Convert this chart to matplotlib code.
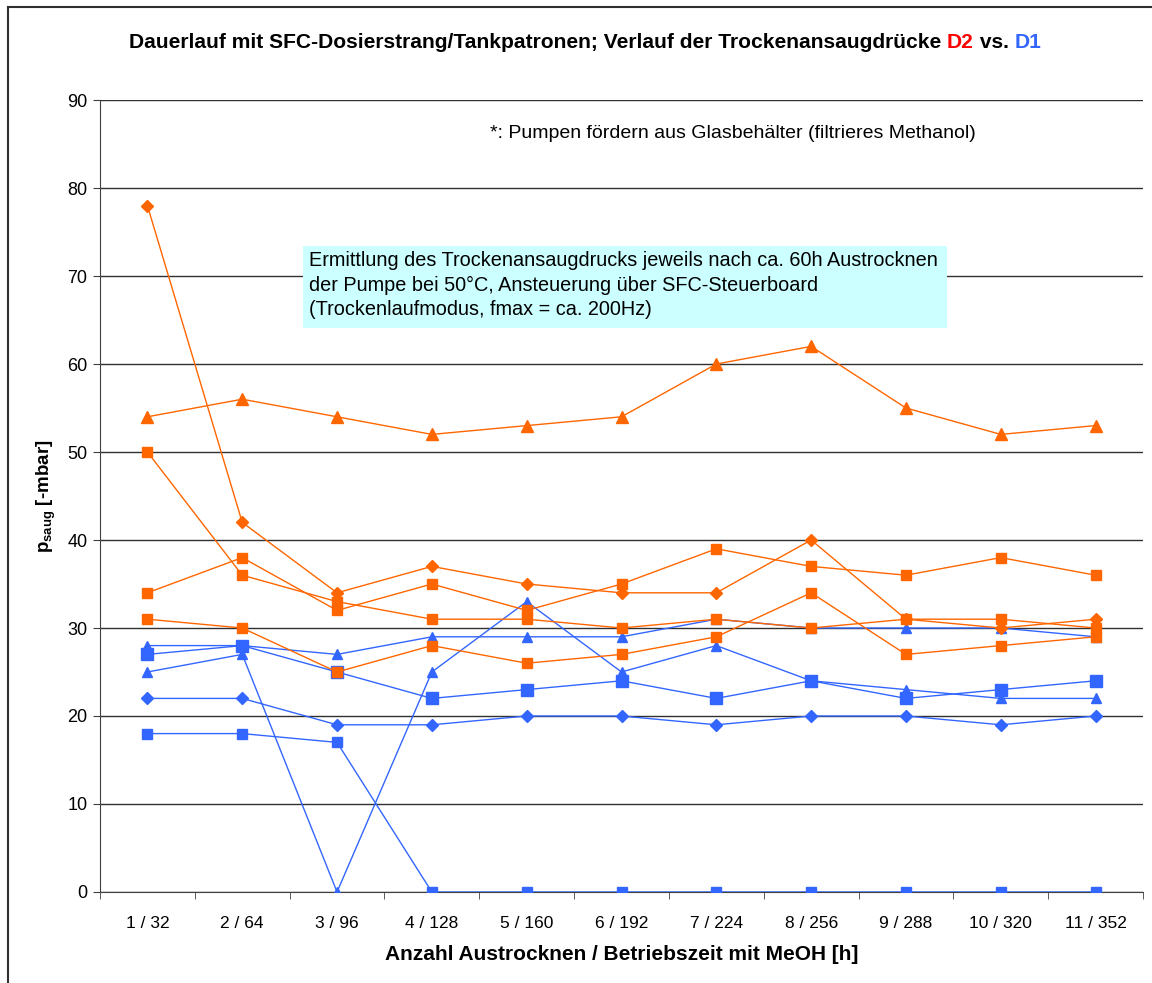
import matplotlib
matplotlib.use("Agg")
import matplotlib.pyplot as plt
from matplotlib.patches import Rectangle
from matplotlib.lines import Line2D

plt.rcParams['font.family'] = ['Liberation Sans', 'DejaVu Sans']
plt.rcParams['mathtext.fontset'] = 'custom'
plt.rcParams['mathtext.rm'] = 'Liberation Sans'
plt.rcParams['mathtext.bf'] = 'Liberation Sans:bold'

# Daten
kategorien = ['1 / 32', '2 / 64', '3 / 96', '4 / 128', '5 / 160', '6 / 192',
              '7 / 224', '8 / 256', '9 / 288', '10 / 320', '11 / 352']

# D2 (orange)
d2_raute = [78, 42, 34, 37, 35, 34, 34, 40, 31, 30, 31]
d2_dreieck = [54, 56, 54, 52, 53, 54, 60, 62, 55, 52, 53]
d2_quadrat_a = [34, 38, 32, 35, 32, 35, 39, 37, 36, 38, 36]
d2_quadrat_b = [50, 36, 33, 31, 31, 30, 31, 30, 31, 31, 30]
d2_quadrat_c = [31, 30, 25, 28, 26, 27, 29, 34, 27, 28, 29]

# D1 (blau)
d1_dreieck_a = [28, 28, 27, 29, 29, 29, 31, 30, 30, 30, 29]
d1_dreieck_b = [25, 27, 0, 25, 33, 25, 28, 24, 23, 22, 22]
d1_quadrat_a = [27, 28, 25, 22, 23, 24, 22, 24, 22, 23, 24]
d1_quadrat_b = [18, 18, 17, 0, 0, 0, 0, 0, 0, 0, 0]
d1_raute = [22, 22, 19, 19, 20, 20, 19, 20, 20, 19, 20]

orange = '#FF6600'
blau = '#3366FF'

W, H = 1152, 983
fig = plt.figure(figsize=(W / 100, H / 100), dpi=100)
ax = fig.add_axes([100 / W, 1 - 892 / H, 1043 / W, 792 / H])

x = list(range(len(kategorien)))

# blaue Reihen zuerst (orange liegt darüber)
ax.plot(x, d1_dreieck_a, color=blau, lw=1, marker='^', ms=7, zorder=3)
ax.plot(x, d1_dreieck_b, color=blau, lw=1, marker='^', ms=7, zorder=3)
ax.plot(x, d1_quadrat_a, color=blau, lw=1, marker='s', ms=8.5, zorder=3)
ax.plot(x, d1_quadrat_b, color=blau, lw=1, marker='s', ms=7, zorder=3)
ax.plot(x, d1_raute, color=blau, lw=1, marker='D', ms=6, zorder=3)

ax.plot(x, d2_raute, color=orange, lw=1, marker='D', ms=6, zorder=4)
ax.plot(x, d2_dreieck, color=orange, lw=1, marker='^', ms=8, zorder=4)
ax.plot(x, d2_quadrat_a, color=orange, lw=1, marker='s', ms=7, zorder=4)
ax.plot(x, d2_quadrat_b, color=orange, lw=1, marker='s', ms=7, zorder=4)
ax.plot(x, d2_quadrat_c, color=orange, lw=1, marker='s', ms=7, zorder=4)

ax.set_xlim(-0.5, len(kategorien) - 0.5)
ax.set_ylim(0, 90)
ax.set_yticks(range(0, 91, 10))
ax.yaxis.grid(True, color='#303030', lw=1)
ax.set_axisbelow(True)

ax.set_xticks(x)
ax.set_xticklabels(kategorien, fontsize=12.5)
ax.set_xticks([i - 0.5 for i in range(len(kategorien) + 1)], minor=True)
ax.tick_params(axis='x', which='major', length=0, pad=17)
ax.tick_params(axis='x', which='minor', length=5, color='#404040', direction='out')
ax.tick_params(axis='y', length=5, color='#404040', labelsize=13, pad=4)

for s in ['top', 'right']:
    ax.spines[s].set_visible(False)
for s in ['left', 'bottom']:
    ax.spines[s].set_color('#404040')

ax.set_xlabel('Anzahl Austrocknen / Betriebszeit mit MeOH [h]', fontsize=15,
              fontweight='bold', labelpad=10)
ax.set_ylabel(r'$\mathbf{p_{saug}}$ [-mbar]', fontsize=13.5, fontweight='bold',
              labelpad=7)

# Titel mit farbigem D2 / D1
ty = 1 - 43 / H
teile = [('Dauerlauf mit SFC-Dosierstrang/Tankpatronen; Verlauf der Trockenansaugdrücke ', 'black'),
         ('D2', '#FF0000'), (' vs. ', 'black'), ('D1', blau)]
fig.canvas.draw()
r = fig.canvas.get_renderer()
texte = []
xpos = 0
for txt, col in teile:
    t = fig.text(xpos, ty, txt, color=col, fontsize=15.1, fontweight='bold',
                 va='center', ha='left')
    xpos = t.get_window_extent(r).x1 / W
    texte.append(t)
breite = texte[-1].get_window_extent(r).x1 - texte[0].get_window_extent(r).x0
start = 585 - breite / 2
for t in texte:
    t.set_x(t.get_position()[0] + start / W)

# Hinweise
fig.text(490 / W, 1 - 133 / H,
         '*: Pumpen fördern aus Glasbehälter (filtrieres Methanol)',
         fontsize=14, va='center', ha='left')

fig.patches.append(Rectangle((303 / W, 1 - 328 / H), 644 / W, 82 / H,
                             transform=fig.transFigure, facecolor='#CCFFFF',
                             edgecolor='none', zorder=5))
fig.text(309 / W, 1 - 251 / H,
         'Ermittlung des Trockenansaugdrucks jeweils nach ca. 60h Austrocknen\n'
         'der Pumpe bei 50°C, Ansteuerung über SFC-Steuerboard\n'
         '(Trockenlaufmodus, fmax = ca. 200Hz)',
         fontsize=14.3, va='top', ha='left', linespacing=1.38, zorder=6,
         transform=fig.transFigure)

# Rahmen
fig.lines.append(Line2D([8 / W, 8 / W], [0, 1 - 7 / H], color='#303030', lw=1.5,
                        transform=fig.transFigure))
fig.lines.append(Line2D([8 / W, 1], [1 - 7 / H, 1 - 7 / H], color='#303030', lw=1.5,
                        transform=fig.transFigure))

fig.savefig('out.png', dpi=100)
